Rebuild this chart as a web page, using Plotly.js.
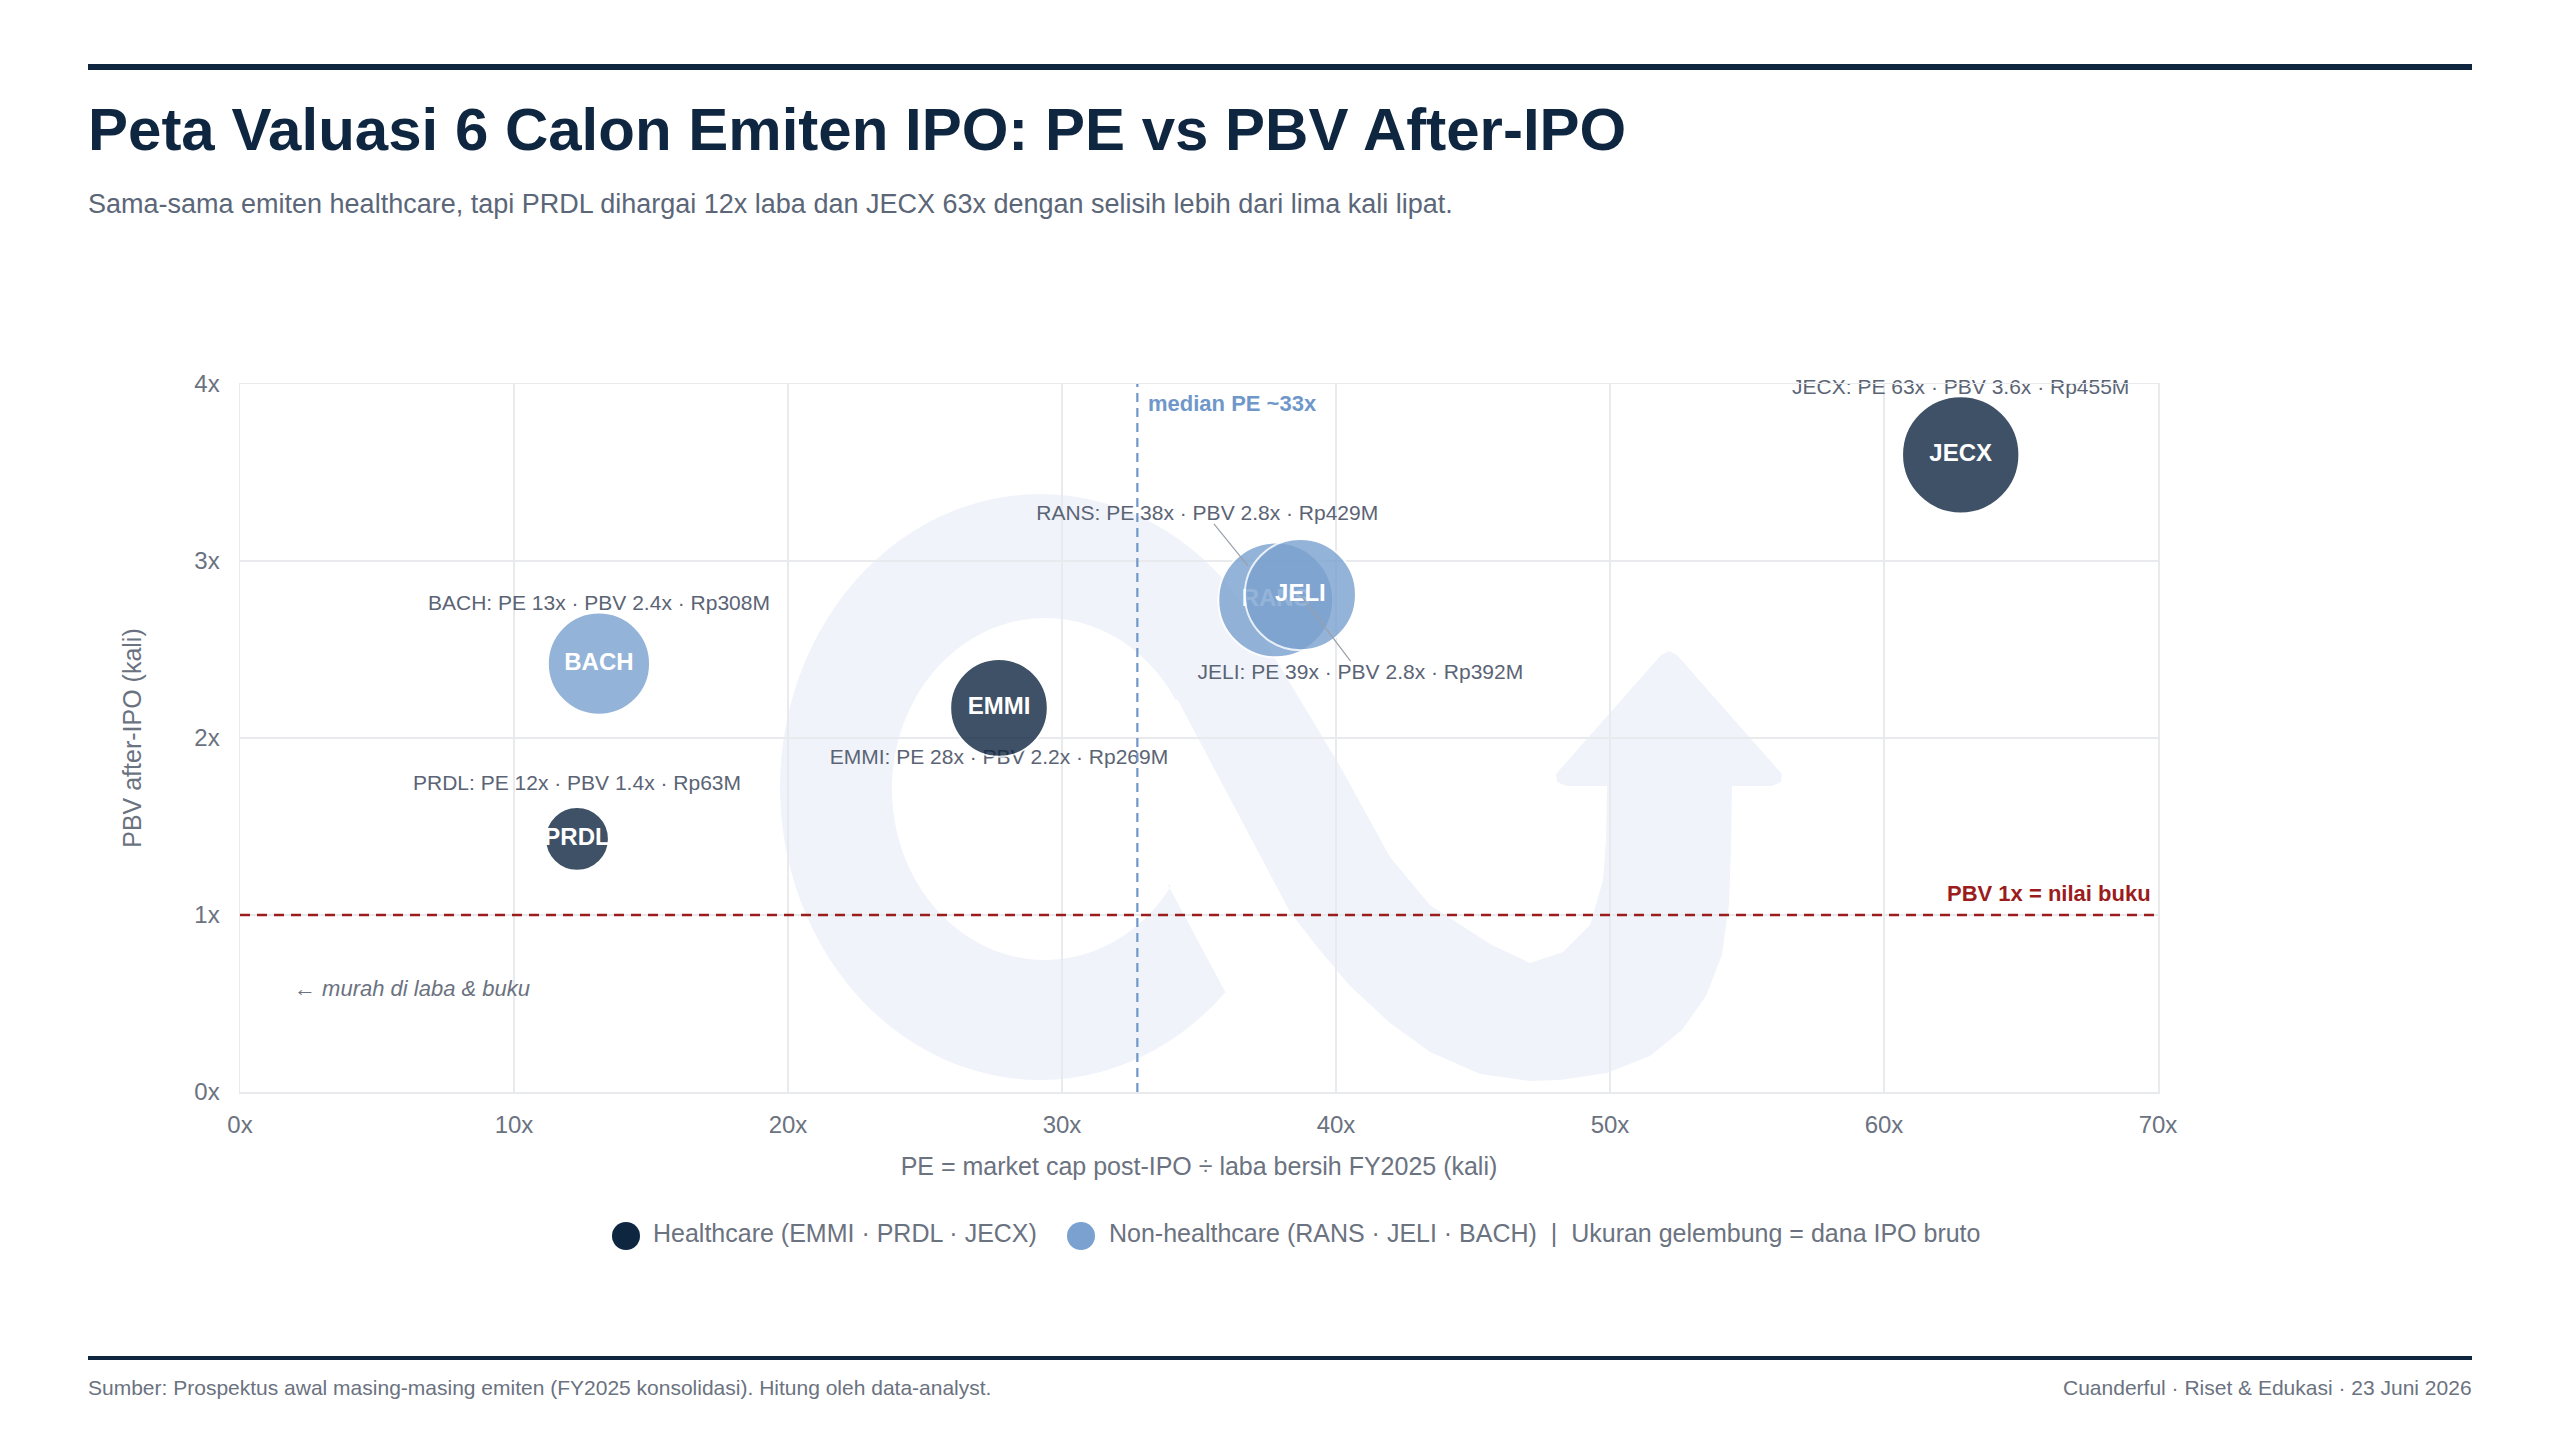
<!DOCTYPE html>
<html>
<head>
<meta charset="utf-8">
<script src="https://cdn.plot.ly/plotly-3.0.1.min.js"></script>
<style>
  html, body { margin: 0; padding: 0; background: #ffffff; }
  #chart { width: 2560px; height: 1440px; }
</style>
</head>
<body>
<div id="chart"></div>
<script>
// ---------------- DATA ----------------
const codes       = ['EMMI', 'PRDL', 'JECX', 'RANS', 'JELI', 'BACH'];
const sectors     = ['Healthcare', 'Healthcare', 'Healthcare', 'Non-healthcare', 'Non-healthcare', 'Non-healthcare'];
const peRatio     = [27.7, 12.3, 62.8, 37.8, 38.7, 13.1];   // PE after IPO (x)
const pbvRatio    = [2.17, 1.43, 3.60, 2.78, 2.81, 2.42];   // PBV after IPO (x)
const ipoFundsRpM = [269, 63, 455, 429, 392, 308];          // dana IPO bruto, Rp miliar
const xTickVals   = [0, 10, 20, 30, 40, 50, 60, 70];
const yTickVals   = [0, 1, 2, 3, 4];
const bookValuePBV = 1;

// ---------------- STYLE / LAYOUT CONSTANTS ----------------
const FONT = '"Liberation Sans", Arial, Helvetica, sans-serif';
const W = 2560, H = 1440;
const PL = 240, PR = 2158, PT = 384, PB = 1092;   // plot area in px
const X_RANGE = [0, 70], Y_RANGE = [0, 4];
const pxX = (PR - PL) / (X_RANGE[1] - X_RANGE[0]);
const pxY = (PB - PT) / (Y_RANGE[1] - Y_RANGE[0]);
const fx = px => (px - PL) / (PR - PL);
const fy = py => (PB - py) / (PB - PT);

const COLORS = { 'Healthcare': '#0f2640', 'Non-healthcare': '#7aa1cf' };
// label offsets from bubble centre, in px (dy positive = up)
const labelOffset = {
  EMMI: { dx: 0, dy: -51 }, PRDL: { dx: 0, dy: 54 }, JECX: { dx: 0, dy: 66.5 },
  RANS: { dx: -68.5, dy: 85.5 }, JELI: { dx: 60, dy: -79 }, BACH: { dx: 0, dy: 58.5 }
};
const leaderLines = {
  RANS: { ax: -63, ay: -77.5, standoff: 44 },
  JELI: { ax: 51.3, ay: 68, standoff: 0 }
};
const bubbleSize = v => 32 + 4 * Math.sqrt(v);

// ---------------- DERIVED ----------------
const sortedPE = peRatio.slice().sort((a, b) => a - b);
const n = sortedPE.length;
const medianPE = n % 2 ? sortedPE[(n - 1) / 2] : (sortedPE[n / 2 - 1] + sortedPE[n / 2]) / 2;

const labelTexts = codes.map((c, i) =>
  `${c}: PE ${Math.round(peRatio[i])}x · PBV ${pbvRatio[i].toFixed(1)}x · Rp${ipoFundsRpM[i]}M`);

// ---------------- TRACES ----------------
const traces = [];
traces.push({
  type: 'scatter', mode: 'text',
  x: codes.map((c, i) => peRatio[i] + labelOffset[c].dx / pxX),
  y: codes.map((c, i) => pbvRatio[i] + labelOffset[c].dy / pxY),
  text: labelTexts, textposition: 'middle center',
  textfont: { family: FONT, size: 21, color: '#5b6475' },
  cliponaxis: false, hoverinfo: 'skip', showlegend: false
});
codes.forEach((c, i) => {
  traces.push({
    type: 'scatter', mode: 'markers+text',
    x: [peRatio[i]], y: [pbvRatio[i]],
    text: ['<b>' + c + '</b>'], textposition: 'middle center',
    textfont: { family: FONT, size: 24, color: '#ffffff' },
    marker: {
      size: bubbleSize(ipoFundsRpM[i]), color: COLORS[sectors[i]], opacity: 0.8,
      line: { color: '#ffffff', width: 2 }
    },
    name: c, cliponaxis: false, showlegend: false, hoverinfo: 'skip'
  });
});

// ---------------- WATERMARK (logo) ----------------
function ell(cx, cy, rx, ry, t0, t1, steps) {
  const pts = [];
  for (let k = 0; k <= steps; k++) {
    const t = (t0 + (t1 - t0) * k / steps) * Math.PI / 180;
    pts.push([cx + rx * Math.cos(t), cy + ry * Math.sin(t)]);
  }
  return pts;
}
function toPath(pts) {
  return 'M' + pts.map(p => fx(p[0]).toFixed(5) + ',' + fy(p[1]).toFixed(5)).join('L') + 'Z';
}
const ringPts = [[1167, 883]]
  .concat(ell(1040, 787, 260, 293, 44.5, 334.3, 90))
  .concat(ell(1045, 789, 153, 171, 328.7, 34.6, 70));
const bandPts = [
  [1146, 640], [1267, 645], [1290, 683], [1340, 766], [1390, 857], [1430, 905],
  [1490, 944], [1530, 963], [1563, 952], [1590, 925], [1603, 880], [1606, 840], [1607, 786],
  [1566, 786], [1557, 782], [1556, 774], [1661, 655], [1669, 651], [1677, 655],
  [1782, 774], [1781, 782], [1772, 786], [1732, 786],
  [1731, 850], [1729, 905], [1722, 955], [1706, 996], [1682, 1030], [1650, 1056], [1607, 1073], [1560, 1080], [1530, 1081],
  [1480, 1074], [1430, 1052], [1390, 1023], [1350, 986], [1318, 948], [1290, 912]
];
const WM_COLOR = '#f0f4fa';

// ---------------- SHAPES ----------------
const shapes = [
  { type: 'path', xref: 'paper', yref: 'paper', path: toPath(ringPts), fillcolor: WM_COLOR, line: { width: 0 }, layer: 'below' },
  { type: 'path', xref: 'paper', yref: 'paper', path: toPath(bandPts), fillcolor: WM_COLOR, line: { width: 0 }, layer: 'below' },
  // top & bottom rules
  { type: 'rect', xref: 'paper', yref: 'paper', x0: fx(88), x1: fx(2472), y0: fy(70), y1: fy(64), fillcolor: '#0f2640', line: { width: 0 } },
  { type: 'rect', xref: 'paper', yref: 'paper', x0: fx(88), x1: fx(2472), y0: fy(1360), y1: fy(1356), fillcolor: '#0f2640', line: { width: 0 } },
  // PBV = 1 reference
  { type: 'line', xref: 'paper', yref: 'y', x0: 0, x1: 1, y0: bookValuePBV, y1: bookValuePBV,
    line: { color: '#9b1c1c', width: 2.5, dash: '10px,7px' }, layer: 'above' },
  // median PE
  { type: 'line', xref: 'x', yref: 'paper', x0: medianPE, x1: medianPE, y0: 0, y1: 1,
    line: { color: '#6f97c9', width: 2.2, dash: '9px,6px' }, layer: 'above' },
  // legend symbols
  { type: 'circle', xref: 'paper', yref: 'paper', x0: fx(612), x1: fx(640), y0: fy(1250), y1: fy(1222),
    fillcolor: COLORS['Healthcare'], line: { width: 0 } },
  { type: 'circle', xref: 'paper', yref: 'paper', x0: fx(1067), x1: fx(1095), y0: fy(1250), y1: fy(1222),
    fillcolor: COLORS['Non-healthcare'], line: { width: 0 } }
];

// ---------------- ANNOTATIONS ----------------
const hcCodes = codes.filter((c, i) => sectors[i] === 'Healthcare');
const nhCodes = codes.filter((c, i) => sectors[i] === 'Non-healthcare');
const NB = '\u00a0';
const annotations = [
  { xref: 'paper', yref: 'paper', x: fx(86), y: fy(130), xanchor: 'left', yanchor: 'middle', showarrow: false,
    text: '<b>Peta Valuasi 6 Calon Emiten IPO: PE vs PBV After-IPO</b>', font: { family: FONT, size: 60, color: '#0f2640' } },
  { xref: 'paper', yref: 'paper', x: fx(86), y: fy(204), xanchor: 'left', yanchor: 'middle', showarrow: false,
    text: 'Sama-sama emiten healthcare, tapi PRDL dihargai 12x laba dan JECX 63x dengan selisih lebih dari lima kali lipat.',
    font: { family: FONT, size: 27, color: '#5b6678' } },
  { xref: 'paper', yref: 'paper', x: fx(86), y: fy(1387), xanchor: 'left', yanchor: 'middle', showarrow: false,
    text: 'Sumber: Prospektus awal masing-masing emiten (FY2025 konsolidasi). Hitung oleh data-analyst.',
    font: { family: FONT, size: 21, color: '#6b7280' } },
  { xref: 'paper', yref: 'paper', x: fx(2474), y: fy(1387), xanchor: 'right', yanchor: 'middle', showarrow: false,
    text: 'Cuanderful · Riset &amp; Edukasi · 23 Juni 2026',
    font: { family: FONT, size: 21, color: '#6b7280' } },
  // legend texts
  { xref: 'paper', yref: 'paper', x: fx(651), y: fy(1233), xanchor: 'left', yanchor: 'middle', showarrow: false,
    text: 'Healthcare (' + hcCodes.join(' · ') + ')', font: { family: FONT, size: 25, color: '#6b7280' } },
  { xref: 'paper', yref: 'paper', x: fx(1107), y: fy(1233), xanchor: 'left', yanchor: 'middle', showarrow: false,
    text: 'Non-healthcare (' + nhCodes.join(' · ') + ')' + NB + NB + '|' + NB + NB + 'Ukuran gelembung = dana IPO bruto',
    font: { family: FONT, size: 25, color: '#6b7280' } },
  // reference labels
  { xref: 'x', yref: 'paper', x: medianPE, xshift: 9, y: fy(403), xanchor: 'left', yanchor: 'middle', showarrow: false,
    text: '<b>median PE ~' + Math.round(medianPE) + 'x</b>', font: { family: FONT, size: 22, color: '#6f97c9' } },
  { xref: 'paper', yref: 'y', x: fx(2153), y: bookValuePBV, yshift: 22, xanchor: 'right', yanchor: 'middle', showarrow: false,
    text: '<b>PBV ' + bookValuePBV + 'x = nilai buku</b>', font: { family: FONT, size: 22, color: '#9b1c1c' } },
  { xref: 'paper', yref: 'paper', x: fx(292), y: fy(988), xanchor: 'left', yanchor: 'middle', showarrow: false,
    text: '<i>← murah di laba &amp; buku</i>', font: { family: FONT, size: 22, color: '#6b7280' } }
];
Object.keys(leaderLines).forEach(c => {
  const i = codes.indexOf(c);
  const L = leaderLines[c];
  annotations.push({
    xref: 'x', yref: 'y', x: peRatio[i], y: pbvRatio[i], axref: 'pixel', ayref: 'pixel',
    ax: L.ax, ay: L.ay, text: '', showarrow: true, arrowhead: 0, arrowwidth: 1.2,
    arrowcolor: '#9aa1ab', standoff: L.standoff
  });
});

// ---------------- LAYOUT ----------------
const layout = {
  width: W, height: H,
  margin: { l: PL, r: W - PR, t: PT, b: H - PB, pad: 0 },
  paper_bgcolor: '#ffffff', plot_bgcolor: '#ffffff',
  font: { family: FONT, color: '#6b7280' },
  showlegend: false,
  xaxis: {
    range: X_RANGE, tickvals: xTickVals, ticktext: xTickVals.map(v => v + 'x'),
    showgrid: true, gridcolor: '#e8eaee', gridwidth: 1.5,
    zeroline: true, zerolinecolor: '#e3e6ea', zerolinewidth: 2,
    showline: true, mirror: true, linecolor: '#e8eaee', linewidth: 1.5,
    ticks: '', ticklabelstandoff: 11,
    tickfont: { family: FONT, size: 24, color: '#6b7280' },
    title: { text: 'PE = market cap post-IPO ÷ laba bersih FY2025 (kali)', font: { family: FONT, size: 25, color: '#6b7280' }, standoff: 20 },
    fixedrange: true
  },
  yaxis: {
    range: Y_RANGE, tickvals: yTickVals, ticktext: yTickVals.map(v => v + 'x'),
    showgrid: true, gridcolor: '#e8eaee', gridwidth: 1.5,
    zeroline: true, zerolinecolor: '#e3e6ea', zerolinewidth: 2,
    showline: true, mirror: true, linecolor: '#e8eaee', linewidth: 1.5,
    ticks: '', ticklabelstandoff: 14,
    tickfont: { family: FONT, size: 24, color: '#6b7280' },
    title: { text: 'PBV after-IPO (kali)', font: { family: FONT, size: 25, color: '#6b7280' }, standoff: 45 },
    fixedrange: true
  },
  shapes: shapes,
  annotations: annotations,
  hovermode: false
};

Plotly.newPlot('chart', traces, layout, { displayModeBar: false, staticPlot: true });
</script>
</body>
</html>
